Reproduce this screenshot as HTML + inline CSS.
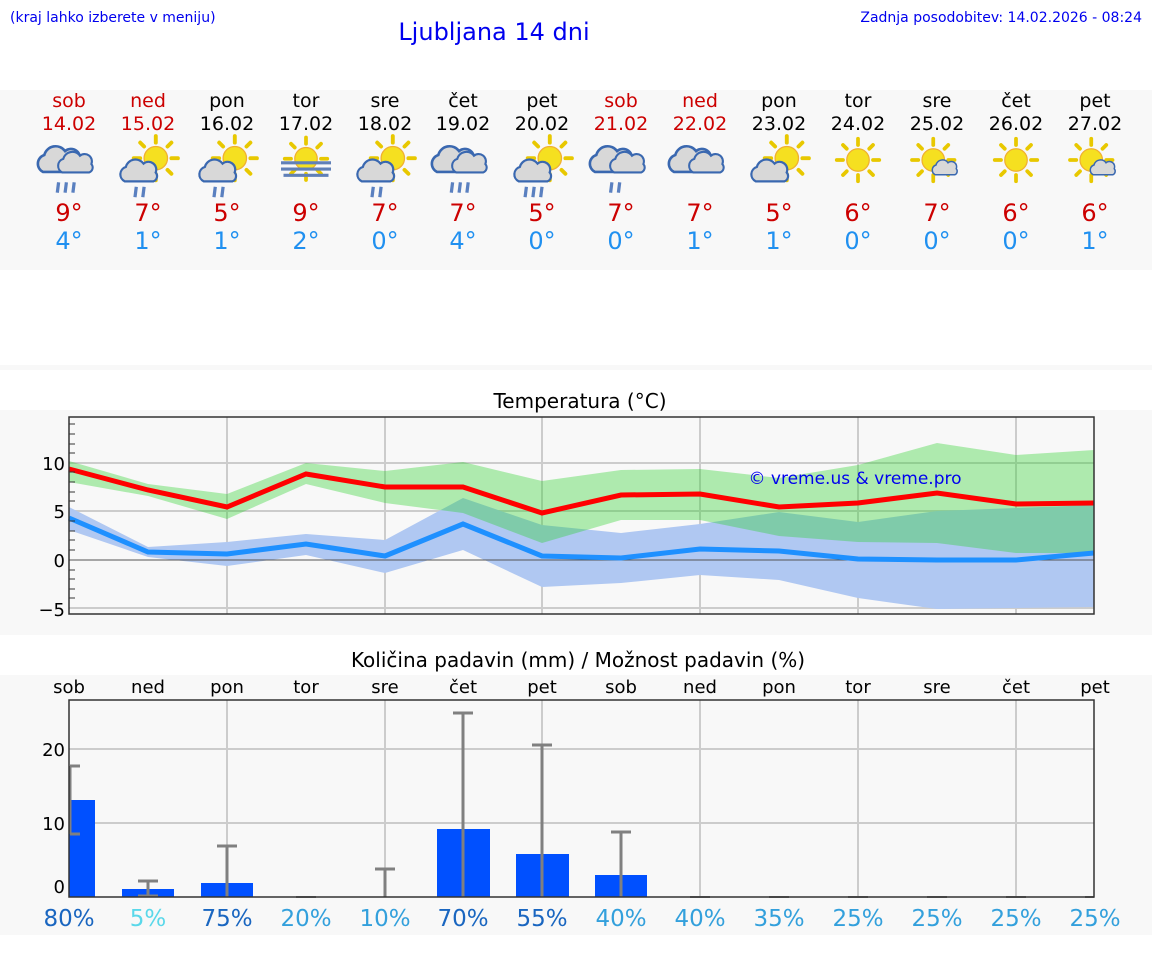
<!DOCTYPE html>
<html><head><meta charset="utf-8"><style>
body{margin:0;background:#fff;width:1152px;height:975px;overflow:hidden;font-family:"DejaVu Sans","Liberation Sans",sans-serif}
</style></head><body>
<svg width="1152" height="975" xmlns="http://www.w3.org/2000/svg" font-family="DejaVu Sans, Liberation Sans, sans-serif">
<defs>
<g id="sun"><g stroke="#e8c800" stroke-width="3" stroke-linecap="round">
<line x1="0" y1="-17" x2="0" y2="-12"/><line x1="0" y1="17" x2="0" y2="12"/><line x1="-17" y1="0" x2="-12" y2="0"/><line x1="17" y1="0" x2="12" y2="0"/>
<line x1="-12" y1="-12" x2="-9" y2="-9"/><line x1="12" y1="12" x2="9" y2="9"/><line x1="-12" y1="12" x2="-9" y2="9"/><line x1="12" y1="-12" x2="9" y2="-9"/></g>
<circle r="9" fill="#f5e020" stroke="#f0b030" stroke-width="1"/></g>
<g id="cloud"><path d="M-14,8 a7,7 0 0 1 1,-13 a9,9 0 0 1 16,-3 a7,7 0 0 1 11,8 a5,5 0 0 1 -2,8 z" fill="#d8d8d8" stroke="#3a68b0" stroke-width="2"/></g>
<g id="rain"><g stroke="#5a80c0" stroke-width="2.5"><line x1="-6" y1="0" x2="-7" y2="8"/><line x1="0" y1="0" x2="-1" y2="8"/><line x1="6" y1="0" x2="5" y2="8"/></g></g>
<g id="rain2"><g stroke="#5a80c0" stroke-width="2.5"><line x1="-3" y1="0" x2="-4" y2="8"/><line x1="3" y1="0" x2="2" y2="8"/></g></g>
</defs>
<rect width="1152" height="975" fill="#fff"/>
<text x="10" y="22" font-size="14" fill="#0000ee">(kraj lahko izberete v meniju)</text>
<text x="494" y="40" font-size="24" fill="#0000ee" text-anchor="middle">Ljubljana 14 dni</text>
<text x="1142" y="22" font-size="14" fill="#0000ee" text-anchor="end">Zadnja posodobitev: 14.02.2026 - 08:24</text>
<rect x="0" y="90" width="1152" height="180" fill="#f8f8f8"/>
<rect x="0" y="365" width="1152" height="5" fill="#f8f8f8"/>
<rect x="0" y="410" width="1152" height="225" fill="#f8f8f8"/>
<rect x="0" y="675" width="1152" height="260" fill="#f8f8f8"/>
<g font-size="19" text-anchor="middle">
<g fill="#cc0000"><text x="69" y="107">sob</text><text x="69" y="130">14.02</text><text x="148" y="107">ned</text><text x="148" y="130">15.02</text><text x="621" y="107">sob</text><text x="621" y="130">21.02</text><text x="700" y="107">ned</text><text x="700" y="130">22.02</text></g>
<g fill="#000"><text x="227" y="107">pon</text><text x="227" y="130">16.02</text><text x="306" y="107">tor</text><text x="306" y="130">17.02</text><text x="385" y="107">sre</text><text x="385" y="130">18.02</text><text x="463" y="107">čet</text><text x="463" y="130">19.02</text><text x="542" y="107">pet</text><text x="542" y="130">20.02</text><text x="779" y="107">pon</text><text x="779" y="130">23.02</text><text x="858" y="107">tor</text><text x="858" y="130">24.02</text><text x="937" y="107">sre</text><text x="937" y="130">25.02</text><text x="1016" y="107">čet</text><text x="1016" y="130">26.02</text><text x="1095" y="107">pet</text><text x="1095" y="130">27.02</text></g>
</g>
<g transform="translate(69,168) scale(1.3) translate(0,-3)"><use href="#cloud" transform="translate(-6,-2)"/><use href="#cloud" transform="translate(6,0) scale(0.8)"/><use href="#rain" transform="translate(-2,14)"/></g>
<g transform="translate(148,166) scale(1.3)"><use href="#sun" transform="translate(6,-6)"/><use href="#cloud" transform="translate(-6,5) scale(0.85)"/><use href="#rain2" transform="translate(-6,16)"/></g>
<g transform="translate(227,166) scale(1.3)"><use href="#sun" transform="translate(6,-6)"/><use href="#cloud" transform="translate(-6,5) scale(0.85)"/><use href="#rain2" transform="translate(-6,16)"/></g>
<g transform="translate(306,165) scale(1.25)"><use href="#sun" transform="translate(0,-5)"/><rect x="-20" y="-3" width="40" height="2.5" fill="#6080b8"/><rect x="-20" y="2" width="40" height="2.5" fill="#6080b8"/><rect x="-18" y="7" width="36" height="2.5" fill="#6080b8"/></g>
<g transform="translate(385,166) scale(1.3)"><use href="#sun" transform="translate(6,-6)"/><use href="#cloud" transform="translate(-6,5) scale(0.85)"/><use href="#rain2" transform="translate(-6,16)"/></g>
<g transform="translate(463,168) scale(1.3) translate(0,-3)"><use href="#cloud" transform="translate(-6,-2)"/><use href="#cloud" transform="translate(6,0) scale(0.8)"/><use href="#rain" transform="translate(-2,14)"/></g>
<g transform="translate(542,166) scale(1.3)"><use href="#sun" transform="translate(6,-6)"/><use href="#cloud" transform="translate(-6,5) scale(0.85)"/><use href="#rain" transform="translate(-6,16)"/></g>
<g transform="translate(621,168) scale(1.3) translate(0,-3)"><use href="#cloud" transform="translate(-6,-2)"/><use href="#cloud" transform="translate(6,0) scale(0.8)"/><use href="#rain2" transform="translate(-4,14)"/></g>
<g transform="translate(700,168) scale(1.3) translate(0,-3)"><use href="#cloud" transform="translate(-6,-2)"/><use href="#cloud" transform="translate(6,0) scale(0.8)"/></g>
<g transform="translate(779,166) scale(1.3)"><use href="#sun" transform="translate(6,-6)"/><use href="#cloud" transform="translate(-6,5) scale(0.85)"/></g>
<g transform="translate(858,160) scale(1.25)"><use href="#sun"/></g>
<g transform="translate(937,160) scale(1.25)"><use href="#sun" transform="translate(-3,0)"/><use href="#cloud" transform="translate(7,7) scale(0.6)"/></g>
<g transform="translate(1016,160) scale(1.25)"><use href="#sun"/></g>
<g transform="translate(1095,160) scale(1.25)"><use href="#sun" transform="translate(-3,0)"/><use href="#cloud" transform="translate(7,7) scale(0.6)"/></g>
<g font-size="24" text-anchor="middle" fill="#cc0000">
<text x="69" y="221">9°</text><text x="148" y="221">7°</text><text x="227" y="221">5°</text><text x="306" y="221">9°</text><text x="385" y="221">7°</text><text x="463" y="221">7°</text><text x="542" y="221">5°</text><text x="621" y="221">7°</text><text x="700" y="221">7°</text><text x="779" y="221">5°</text><text x="858" y="221">6°</text><text x="937" y="221">7°</text><text x="1016" y="221">6°</text><text x="1095" y="221">6°</text></g>
<g font-size="24" text-anchor="middle" fill="#2090f0">
<text x="69" y="249">4°</text><text x="148" y="249">1°</text><text x="227" y="249">1°</text><text x="306" y="249">2°</text><text x="385" y="249">0°</text><text x="463" y="249">4°</text><text x="542" y="249">0°</text><text x="621" y="249">0°</text><text x="700" y="249">1°</text><text x="779" y="249">1°</text><text x="858" y="249">0°</text><text x="937" y="249">0°</text><text x="1016" y="249">0°</text><text x="1095" y="249">1°</text></g>

<text x="580" y="408" font-size="20" text-anchor="middle">Temperatura (°C)</text>
<g stroke="#ccc" stroke-width="2">
<line x1="227" y1="417" x2="227" y2="614"/><line x1="385" y1="417" x2="385" y2="614"/><line x1="542" y1="417" x2="542" y2="614"/><line x1="700" y1="417" x2="700" y2="614"/><line x1="858" y1="417" x2="858" y2="614"/><line x1="1016" y1="417" x2="1016" y2="614"/>
<line x1="69" y1="463" x2="1094" y2="463"/><line x1="69" y1="511" x2="1094" y2="511"/><line x1="69" y1="608" x2="1094" y2="608"/></g>
<polygon fill="#b0c8f2" points="69,507 148,547 227,542 306,534 385,540 463,498 542,525 621,533 700,524 779,512 858,522 937,511 1016,508 1094,505 1094,607 1016,608 937,609 858,598 779,580 700,575 621,583 542,587 463,550 385,573 306,555 227,566 148,557 69,530"/>
<polygon fill="rgb(37,208,37)" fill-opacity="0.35" points="69,461 148,484 227,494 306,463 385,471 463,462 542,481 621,470 700,469 779,478 858,465 937,443 1016,455 1094,450 1094,553 1016,553 937,543 858,542 779,536 700,520 621,520 542,543 463,513 385,503 306,484 227,519 148,496 69,482"/>
<line x1="69" y1="560" x2="1094" y2="560" stroke="#555" stroke-width="1"/>
<polyline fill="none" stroke="#1e90ff" stroke-width="5" points="69,518 148,552 227,554 306,544 385,556 463,524 542,556 621,558 700,549 779,551 858,559 937,560 1016,560 1094,553"/>
<polyline fill="none" stroke="#ff0000" stroke-width="5" points="69,469 148,490 227,507 306,474 385,487 463,487 542,513 621,495 700,494 779,507 858,503 937,493 1016,504 1094,503"/>
<text x="855" y="484" font-size="17" fill="#0000ee" text-anchor="middle">© vreme.us &amp; vreme.pro</text>
<rect x="69" y="417" width="1025" height="197" fill="none" stroke="#333" stroke-width="1.5"/>
<g stroke="#333" stroke-width="1">
<line x1="69" y1="424" x2="75" y2="424"/><line x1="69" y1="444" x2="75" y2="444"/><line x1="69" y1="453" x2="75" y2="453"/><line x1="69" y1="482" x2="75" y2="482"/><line x1="69" y1="492" x2="75" y2="492"/><line x1="69" y1="501" x2="75" y2="501"/><line x1="69" y1="531" x2="75" y2="531"/><line x1="69" y1="540" x2="75" y2="540"/><line x1="69" y1="550" x2="75" y2="550"/><line x1="69" y1="570" x2="75" y2="570"/><line x1="69" y1="579" x2="75" y2="579"/><line x1="69" y1="589" x2="75" y2="589"/><line x1="69" y1="598" x2="75" y2="598"/><line x1="69" y1="434" x2="75" y2="434"/><line x1="69" y1="472" x2="75" y2="472"/><line x1="69" y1="521" x2="75" y2="521"/></g>
<g font-size="18" text-anchor="end"><text x="65" y="470">10</text><text x="65" y="518">5</text><text x="65" y="567">0</text><text x="65" y="616">−5</text></g>

<text x="578" y="667" font-size="20" text-anchor="middle">Količina padavin (mm) / Možnost padavin (%)</text>
<g font-size="18" text-anchor="middle">
<text x="69" y="693">sob</text><text x="148" y="693">ned</text><text x="227" y="693">pon</text><text x="306" y="693">tor</text><text x="385" y="693">sre</text><text x="463" y="693">čet</text><text x="542" y="693">pet</text><text x="621" y="693">sob</text><text x="700" y="693">ned</text><text x="779" y="693">pon</text><text x="858" y="693">tor</text><text x="937" y="693">sre</text><text x="1016" y="693">čet</text><text x="1095" y="693">pet</text></g>
<g stroke="#ccc" stroke-width="2">
<line x1="227" y1="700" x2="227" y2="897"/><line x1="385" y1="700" x2="385" y2="897"/><line x1="542" y1="700" x2="542" y2="897"/><line x1="700" y1="700" x2="700" y2="897"/><line x1="858" y1="700" x2="858" y2="897"/><line x1="1016" y1="700" x2="1016" y2="897"/>
<line x1="69" y1="749" x2="1094" y2="749"/><line x1="69" y1="823" x2="1094" y2="823"/></g>
<g fill="#0050ff">
<rect x="69" y="800" width="26" height="97"/><rect x="122" y="889" width="52" height="8"/><rect x="201" y="883" width="52" height="14"/><rect x="437" y="829" width="53" height="68"/><rect x="516" y="854" width="53" height="43"/><rect x="595" y="875" width="52" height="22"/></g>
<g stroke="#808080" stroke-width="3" fill="none">
<path d="M70,766V834M70,766h10M70,834h10"/>
<path d="M148,881V897M138,881h20M138,896h20"/>
<path d="M227,846V897M217,846h20"/>
<path d="M385,869V897M375,869h20"/>
<path d="M463,713V897M453,713h20"/>
<path d="M542,745V897M532,745h20"/>
<path d="M621,832V897M611,832h20"/>
<path d="M296,897h20M848,897h20M927,897h20M1006,897h20M1085,897h9M690,897h20M769,897h20" stroke-width="2"/>
</g>
<rect x="69" y="700" width="1025" height="197" fill="none" stroke="#333" stroke-width="1.5"/>
<g font-size="18" text-anchor="end"><text x="65" y="756">20</text><text x="65" y="830">10</text><text x="65" y="893">0</text></g>
<g font-size="23" text-anchor="middle">
<text x="69" y="926" fill="#1a66c0">80%</text><text x="148" y="926" fill="#5ad8ea">5%</text><text x="227" y="926" fill="#1a66c0">75%</text><text x="306" y="926" fill="#33a0dc">20%</text><text x="385" y="926" fill="#33a0dc">10%</text><text x="463" y="926" fill="#1a66c0">70%</text><text x="542" y="926" fill="#1a66c0">55%</text><text x="621" y="926" fill="#33a0dc">40%</text><text x="700" y="926" fill="#33a0dc">40%</text><text x="779" y="926" fill="#33a0dc">35%</text><text x="858" y="926" fill="#33a0dc">25%</text><text x="937" y="926" fill="#33a0dc">25%</text><text x="1016" y="926" fill="#33a0dc">25%</text><text x="1095" y="926" fill="#33a0dc">25%</text></g>
</svg>
</body></html>
